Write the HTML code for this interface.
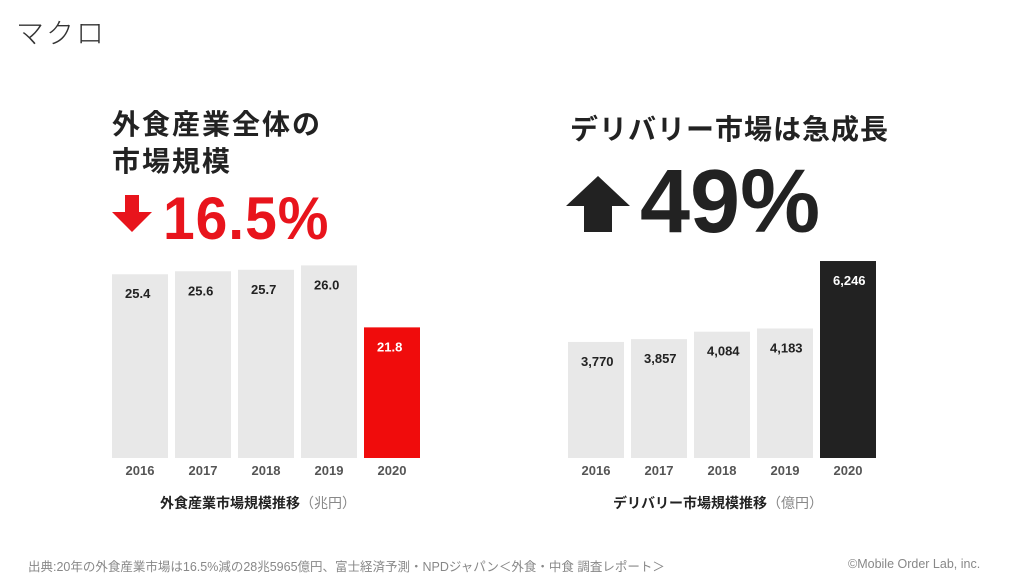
<!DOCTYPE html>
<html><head><meta charset="utf-8"><style>
html,body{margin:0;padding:0;background:#fff;width:1024px;height:576px;overflow:hidden;font-family:"Liberation Sans","Noto Sans CJK JP",sans-serif}
.abs{position:absolute;white-space:nowrap}
</style></head><body>
<div class="abs" style="left:16px;top:12px;font-size:28px;color:#333;font-weight:300;letter-spacing:2px">マクロ</div>
<div class="abs" style="left:112px;top:106px;font-size:28px;font-weight:bold;color:#222;line-height:37px;letter-spacing:2px">外食産業全体の<br>市場規模</div>
<svg class="abs" style="left:112px;top:195px" width="40" height="40" viewBox="0 0 40 40"><polygon points="13,0 27,0 27,17 40,17 20,37 0,17 13,17" fill="#e8141c"/></svg>
<div class="abs" style="left:163px;top:184px;font-size:60px;font-weight:bold;color:#e8141c;letter-spacing:1px;transform:scaleX(0.95);transform-origin:left">16.5%</div>
<div class="abs" style="left:570px;top:108px;font-size:28px;font-weight:bold;color:#222;letter-spacing:1px">デリバリー市場は急成長</div>
<svg class="abs" style="left:566px;top:176px" width="64" height="56" viewBox="0 0 64 56"><polygon points="32,0 64,30 46,30 46,56 18,56 18,30 0,30" fill="#222"/></svg>
<div class="abs" style="left:640px;top:152px;font-size:90px;font-weight:bold;color:#222;transform:scaleX(1.0);transform-origin:left;line-height:100px">49%</div>
<svg class="abs" id="charts" style="left:0;top:0" width="1024" height="576"></svg>
<div class="abs" style="left:160px;top:493px;font-size:14px;font-weight:bold;color:#222">外食産業市場規模推移<span style="font-weight:normal;color:#888">（兆円）</span></div>
<div class="abs" style="left:613px;top:493px;font-size:14px;font-weight:bold;color:#222">デリバリー市場規模推移<span style="font-weight:normal;color:#888">（億円）</span></div>
<div class="abs" style="left:28px;top:556px;font-size:12.5px;color:#888">出典:20年の外食産業市場は16.5%減の28兆5965億円、富士経済予測・NPDジャパン＜外食・中食 調査レポート＞</div>
<div class="abs" style="left:848px;top:557px;font-size:12.5px;color:#888">©Mobile Order Lab, inc.</div>
<script>
const years=["2016","2017","2018","2019","2020"];
const leftValues=[25.4,25.6,25.7,26.0,21.8];
const leftLabels=["25.4","25.6","25.7","26.0","21.8"];
const rightValues=[3770,3857,4084,4183,6246];
const rightLabels=["3,770","3,857","4,084","4,183","6,246"];
const svg=document.getElementById('charts');
const NS='http://www.w3.org/2000/svg';
function mk(t,a){const e=document.createElementNS(NS,t);for(const k in a)e.setAttribute(k,a[k]);svg.appendChild(e);return e;}
function chart(x0,vals,labels,v0,ppu,hiColor,prefix){
  const base=458,step=63,w=56;
  vals.forEach((v,i)=>{
    const x=x0+i*step,y=base-(v-v0)*ppu;
    const last=i===vals.length-1;
    const r=mk('rect',{x:x,y:y,width:w,height:base-y,fill:last?hiColor:'#e8e8e8'});
    
    
    const t=mk('text',{x:x+13,y:y+24,'font-size':13,'font-weight':'bold',fill:last?'#fff':'#222','font-family':'Liberation Sans, sans-serif'});
    t.textContent=labels[i];
    
    
    const yl=mk('text',{x:x+w/2,y:base+17,'font-size':13,'font-weight':'bold','text-anchor':'middle',fill:'#555','font-family':'Liberation Sans, sans-serif'});
    yl.textContent=years[i];
    
    
  });
}
chart(112,leftValues,leftLabels,12.95,14.76,'#f00c0c','left');
chart(568,rightValues,rightLabels,222,0.0327,'#222','right');
</script>
</body></html>
